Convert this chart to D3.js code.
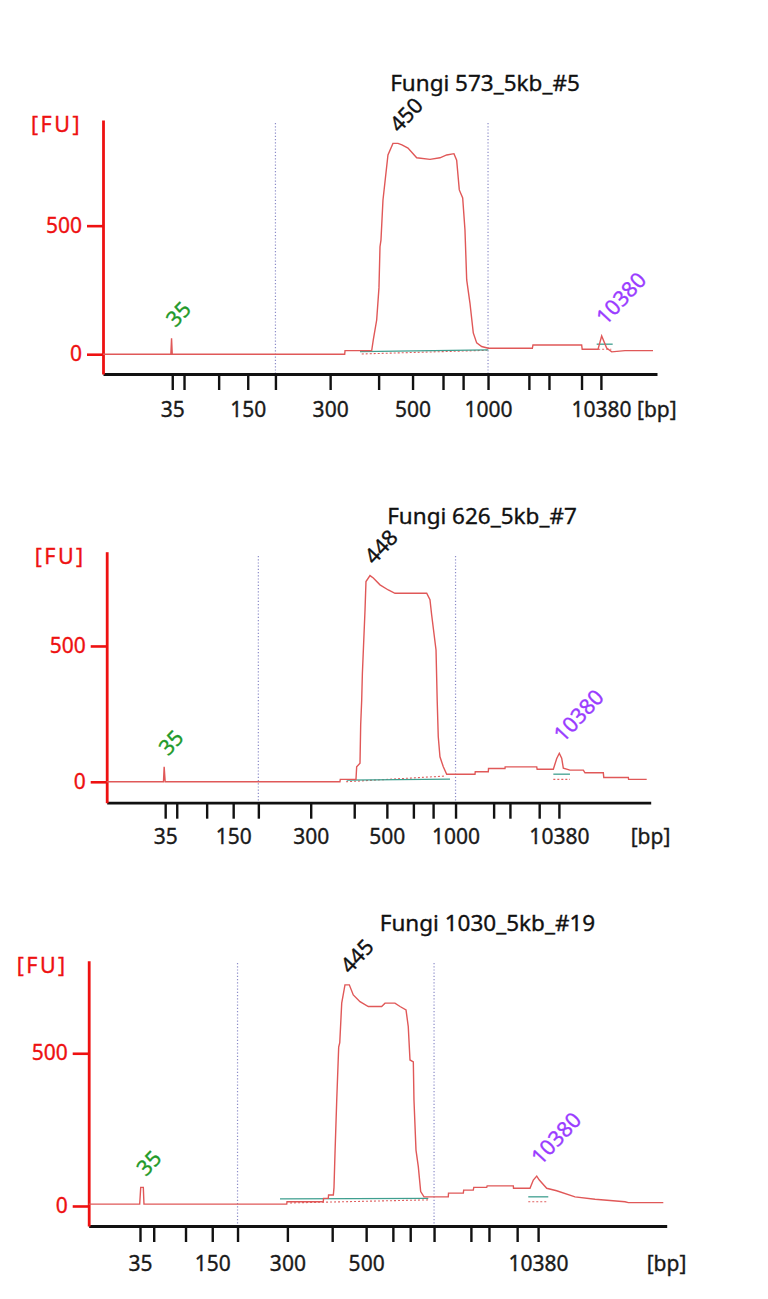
<!DOCTYPE html>
<html><head><meta charset="utf-8">
<script src="https://cdn.jsdelivr.net/npm/d3@7"></script>
<style>body{margin:0;background:#fff} svg{display:block}</style>
</head><body>
<svg id="c" width="768" height="1299"></svg>
<script>
// ---- DATA ----
const ladderSizes = [35,50,100,150,200,300,400,500,600,700,1000,2000,3000,7000,10380];
const sampleNames = ["Fungi 573_5kb_#5","Fungi 626_5kb_#7","Fungi 1030_5kb_#19"];
// migration time (s) of each ladder band, per sample
const ladderTimes1 = [50.0,51.7,56.7,60.9,64.9,72.8,79.8,84.7,89.1,92.0,95.6,101.5,104.4,109.1,111.9];
const ladderTimes2 = [48.6,50.3,54.7,58.6,62.3,70.0,76.4,81.2,85.1,88.0,91.3,96.9,99.3,103.6,106.5];
const ladderTimes3 = [47.1,49.0,53.4,57.1,60.6,67.5,73.7,78.4,82.1,84.5,87.8,92.9,95.4,99.3,102.2];
const labeledSizes1 = [35,150,300,500,1000,10380];
const labeledSizes2 = [35,150,300,500,1000,10380];
const labeledSizes3 = [35,150,300,500,10380];
const fuTicks = [0,500];
const smearRange = [200,1000];
// electropherogram traces: [time s, FU]
const trace1 = [[40,0],[49.8,0],[49.9,62],[50.0,0],[74.9,0],[74.95,14],[78.8,14],[79.03,56],[79.52,133],[79.85,258],[80.0,418],[80.14,444],[80.43,600],[81.15,775],[81.87,820],[82.6,820],[83.17,814],[84.04,802],[85.3,764],[87.22,758],[88.66,764],[89.63,775],[90.68,780],[91.07,755],[91.45,639],[91.94,608],[92.27,483],[92.52,289],[92.99,199],[93.47,83],[93.96,44],[94.68,30],[95.64,23],[102.0,23],[102.09,36],[109.12,36],[109.2,19],[111.48,19],[112.01,71],[112.73,24],[113.46,9],[115.38,14],[119.42,14]];
const trace2 = [[40,0],[48.35,0],[48.45,55],[48.6,0],[74.3,0],[74.35,9],[76.66,9],[76.76,55],[77.25,68],[77.35,209],[77.5,301],[77.6,399],[77.99,633],[78.13,737],[78.72,759],[79.21,750],[80.19,725],[81.41,706],[82.4,694],[84.85,694],[87.06,694],[87.54,670],[87.79,614],[88.43,485],[88.6,301],[88.76,166],[89.01,92],[89.5,55],[90.0,28],[94.16,28],[94.2,37],[96.12,37],[96.15,49],[98.57,49],[98.6,55],[103.24,55],[103.3,46],[105.68,46],[106.18,86],[106.56,105],[106.91,87],[107.15,50],[108.13,43],[110.09,43],[110.34,33],[113.03,33],[113.1,16],[116.71,16],[116.75,9],[119.41,9]];
const trace3 = [[40,6],[47.06,6],[47.2,61],[47.56,61],[47.65,6],[67.41,6],[67.45,14],[72.47,14],[72.5,25],[73.16,25],[73.2,36],[73.86,36],[73.95,60],[74.09,173],[74.33,347],[74.6,520],[74.75,535],[75.02,664],[75.47,724],[76.07,724],[76.62,691],[77.55,669],[78.7,653],[80.55,653],[81.01,664],[82.39,664],[83.09,653],[83.92,642],[84.23,587],[84.47,478],[84.93,472],[85.02,347],[85.3,183],[85.62,129],[85.95,47],[86.41,30],[89.77,30],[89.8,42],[91.85,42],[91.9,52],[93.23,52],[93.3,61],[95.09,61],[95.15,66],[98.77,66],[98.8,58],[101.08,58],[101.54,85],[102.01,98],[102.37,85],[103.39,58],[104.77,50],[107.31,30],[110.08,22],[114.23,14],[114.69,11],[119.53,11]];
// peak calls: label, time, FU, kind
const peaks1 = [{label:"35",t:49.9,fu:62,kind:"lower"},{label:"450",t:82.2,fu:820,kind:"sample"},{label:"10380",t:112.01,fu:71,kind:"upper"}];
const peaks2 = [{label:"35",t:48.45,fu:55,kind:"lower"},{label:"448",t:78.72,fu:759,kind:"sample"},{label:"10380",t:106.56,fu:105,kind:"upper"}];
const peaks3 = [{label:"35",t:47.38,fu:61,kind:"lower"},{label:"445",t:75.6,fu:724,kind:"sample"},{label:"10380",t:102.01,fu:98,kind:"upper"}];
// integration baselines: [t1, fu1, t2, fu2]
const baselines1 = [[77.11,10,95.64,17],[111.29,39,113.6,39]];
const baselines2 = [[75.29,6,90.49,10],[105.68,28,108.13,28]];
const baselines3 = [[66.48,23,87.0,25],[100.84,30,103.61,30]];
// peak start/end dotted drops: [t1, fu1, t2, fu2]
const drops1 = [[77.36,1,95.41,15],[111.5,19,113.4,19]];
const drops2 = [[75.2,0,89.7,21],[105.68,9,108.13,9]];
const drops3 = [[67.87,10,86.96,20],[100.84,14,103.61,14]];

// ---- LAYOUT ----
const panels = [
  {name:sampleNames[0], ladder:ladderTimes1, labels:labeledSizes1, trace:trace1, peaks:peaks1, base:baselines1, drops:drops1,
   x0:103, x1:657, top:120, axisY:374, fuMin:-77, fuMax:911, dotTop:123, titleX:485, titleY:90.7, pad:12},
  {name:sampleNames[1], ladder:ladderTimes2, labels:labeledSizes2, trace:trace2, peaks:peaks2, base:baselines2, drops:drops2,
   x0:106.7, x1:650.7, top:551.7, axisY:802.7, fuMin:-77, fuMax:847, dotTop:556, titleX:482, titleY:524, pad:10.5},
  {name:sampleNames[2], ladder:ladderTimes3, labels:labeledSizes3, trace:trace3, peaks:peaks3, base:baselines3, drops:drops3,
   x0:88.7, x1:666.7, top:960.7, axisY:1226, fuMin:-65.5, fuMax:803, dotTop:963, titleX:487.5, titleY:930.7, pad:14.5}
];
const FONT = "'Noto Sans', 'DejaVu Sans', sans-serif";
const peakColor = {lower:"#1f9a2a", sample:"#111", upper:"#9a3cff"};
const svg = d3.select("#c");
const heavy = (sel, col) => sel.attr("stroke", col).attr("stroke-width", 0.35);

panels.forEach(p => {
  const g = svg.append("g");
  const x = d3.scaleLinear().domain([40,120]).range([p.x0, p.x1]);
  const y = d3.scaleLinear().domain([p.fuMin, p.fuMax]).range([p.axisY, p.top]);
  const tOf = s => p.ladder[ladderSizes.indexOf(s)];

  // smear region markers
  g.selectAll(".reg").data(smearRange).join("line")
    .attr("x1", s => x(tOf(s))).attr("x2", s => x(tOf(s)))
    .attr("y1", p.dotTop).attr("y2", p.axisY)
    .attr("stroke", "#8c8cc8").attr("stroke-width", 1.2).attr("stroke-dasharray", "1.2,2");

  // x axis
  const xa = d3.axisBottom(x).tickValues(p.ladder).tickSize(16).tickSizeOuter(0).tickPadding(p.pad)
    .tickFormat((t,i) => p.labels.includes(ladderSizes[i]) ? String(ladderSizes[i]) : "");
  const gx = g.append("g").attr("transform", `translate(0,${p.axisY})`).call(xa);
  gx.select(".domain").attr("stroke", "#111").attr("stroke-width", 2.8);
  gx.selectAll(".tick line").attr("stroke", "#111").attr("stroke-width", 2.4);
  heavy(gx.selectAll("text").attr("font-family", FONT).attr("font-size", 21).attr("fill", "#1a1a1a"), "#1a1a1a");
  heavy(g.append("text").attr("x", p.x1 - 20).attr("y", p.axisY + p.pad + 16).attr("dy", "0.71em")
    .attr("font-family", FONT).attr("font-size", 21).attr("fill", "#1a1a1a").text("[bp]"), "#1a1a1a");

  // y axis
  const ya = d3.axisLeft(y).tickValues(fuTicks).tickSize(16).tickSizeOuter(0).tickPadding(5);
  const gy = g.append("g").attr("transform", `translate(${p.x0},0)`).call(ya);
  gy.select(".domain").attr("stroke", "#ee1111").attr("stroke-width", 2.8);
  gy.selectAll(".tick line").attr("stroke", "#ee1111").attr("stroke-width", 2.6);
  heavy(gy.selectAll("text").attr("font-family", FONT).attr("font-size", 21).attr("fill", "#ee1111"), "#ee1111");
  heavy(g.append("text").attr("x", p.x0 - 21).attr("y", p.top + 12).attr("text-anchor", "end")
    .attr("font-family", FONT).attr("font-size", 21.5).attr("fill", "#ee1111")
    .attr("letter-spacing", 2.5).text("[FU]"), "#ee1111");

  // title
  heavy(g.append("text").attr("x", p.titleX).attr("y", p.titleY).attr("text-anchor", "middle")
    .attr("font-family", FONT).attr("font-size", 22.5).attr("fill", "#111").text(p.name), "#111");

  // integration marks
  g.selectAll(".drop").data(p.drops).join("line")
    .attr("x1", d => x(d[0])).attr("y1", d => y(d[1])).attr("x2", d => x(d[2])).attr("y2", d => y(d[3]))
    .attr("stroke", "#e06060").attr("stroke-width", 1.1).attr("stroke-dasharray", "2,2");
  g.selectAll(".base").data(p.base).join("line")
    .attr("x1", d => x(d[0])).attr("y1", d => y(d[1])).attr("x2", d => x(d[2])).attr("y2", d => y(d[3]))
    .attr("stroke", "#3f9f8f").attr("stroke-width", 1.3);

  // trace
  g.append("path").datum(p.trace)
    .attr("d", d3.line().x(d => x(d[0])).y(d => y(d[1])))
    .attr("fill", "none").attr("stroke", "#e05858").attr("stroke-width", 1.4);

  // peak labels
  const pk = g.selectAll(".pk").data(p.peaks).join("text")
    .attr("transform", d => `translate(${x(d.t) + 4},${y(d.fu) - 10}) rotate(-47)`)
    .attr("font-family", FONT).attr("font-size", 21.5).attr("fill", d => peakColor[d.kind])
    .attr("stroke", d => peakColor[d.kind]).attr("stroke-width", 0.35)
    .text(d => d.label);
});
</script>
</body></html>
